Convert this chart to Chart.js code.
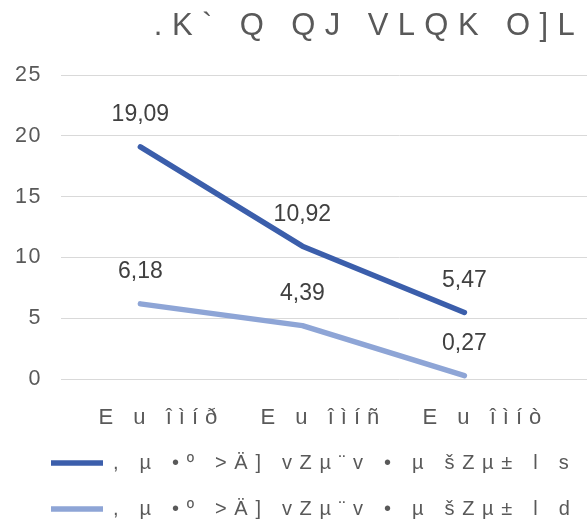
<!DOCTYPE html>
<html>
<head>
<meta charset="utf-8">
<script src="https://cdn.jsdelivr.net/npm/chart.js@4/dist/chart.umd.min.js"></script>
<style>
html, body { margin: 0; padding: 0; overflow: hidden; background: #fff; }
#chart { display: block; }
</style>
</head>
<body>
<canvas id="chart" width="768" height="524"></canvas>
<script>
const titleText = '.K` Q QJ VLQK O]L';
const categories = ['E u îìíð', 'E u îìíñ', 'E u îìíò'];
const seriesNames = [', µ •º >Ä] vZµ¨v • µ šZµ± l s', ', µ •º >Ä] vZµ¨v • µ šZµ± l d'];
const seriesTop = [19.09, 10.92, 5.47];
const seriesBottom = [6.18, 4.39, 0.27];
const yTicks = [0, 5, 10, 15, 20, 25];

const FONT = '"Liberation Sans", Arial, sans-serif';
const TEXT_GREY = '#595959';

// wrap a box method so its text is drawn/measured with extra letter spacing
// (dx optionally nudges the whole box sideways while drawing)
function spaced(target, method, px, dx = 0) {
    const orig = target[method];
    target[method] = function (...args) {
        const ctx = this.ctx;
        ctx.save();
        ctx.letterSpacing = px;
        if (dx) ctx.translate(dx, 0);
        try {
            return orig.apply(this, args);
        } finally {
            ctx.restore();
        }
    };
}

const letterSpacing = {
    id: 'letterSpacing',
    beforeLayout(chart) {
        if (chart.$spaced) return;
        chart.$spaced = true;
        spaced(chart.titleBlock, 'draw', '9.4px');
        spaced(chart.legend, 'update', '7.7px');
        spaced(chart.legend, 'draw', '7.7px', 25);
        spaced(chart.scales.x, 'update', '7px');
        spaced(chart.scales.x, 'drawLabels', '7px');
        spaced(chart.scales.y, 'update', '1.5px');
        spaced(chart.scales.y, 'drawLabels', '1.5px');
    }
};

const valueLabels = {
    id: 'valueLabels',
    afterDatasetsDraw(chart) {
        const ctx = chart.ctx;
        ctx.save();
        ctx.font = '23px ' + FONT;
        ctx.fillStyle = '#404040';
        ctx.textAlign = 'center';
        ctx.textBaseline = 'middle';
        chart.data.datasets.forEach((ds, i) => {
            chart.getDatasetMeta(i).data.forEach((pt, j) => {
                const text = ds.data[j].y.toFixed(2).replace('.', ',');
                ctx.fillText(text, pt.x, pt.y - 32);
            });
        });
        ctx.restore();
    }
};

const toPoints = values => values.map((v, i) => ({ x: i, y: v }));

new Chart(document.getElementById('chart'), {
    type: 'line',
    data: {
        datasets: [
            {
                label: seriesNames[0],
                data: toPoints(seriesTop),
                borderColor: '#3B5EAB',
                backgroundColor: '#3B5EAB'
            },
            {
                label: seriesNames[1],
                data: toPoints(seriesBottom),
                borderColor: '#8EA5D6',
                backgroundColor: '#8EA5D6'
            }
        ]
    },
    options: {
        responsive: false,
        animation: false,
        events: [],
        datasets: {
            line: {
                borderWidth: 5.5,
                borderCapStyle: 'round',
                borderJoinStyle: 'round',
                tension: 0,
                pointRadius: 0
            }
        },
        layout: {
            padding: { top: 0, right: 30, bottom: -5, left: 0 }
        },
        scales: {
            x: {
                type: 'linear',
                min: -0.49,
                max: 3.689,
                afterBuildTicks: scale => {
                    scale.ticks = categories.map((c, i) => ({ value: i }));
                },
                afterFit: scale => { scale.height = 48; },
                grid: { display: false },
                border: { display: false },
                ticks: {
                    callback: value => categories[value],
                    autoSkip: false,
                    maxRotation: 0,
                    padding: 18,
                    labelOffset: 21,
                    color: TEXT_GREY,
                    font: { family: FONT, size: 22 }
                }
            },
            y: {
                min: yTicks[0],
                max: yTicks[yTicks.length - 1],
                afterBuildTicks: scale => {
                    scale.ticks = yTicks.map(v => ({ value: v }));
                },
                afterFit: scale => { scale.width = 61; },
                grid: { color: '#D9D9D9', lineWidth: 1, drawTicks: false },
                border: { display: false },
                ticks: {
                    padding: 19,
                    color: TEXT_GREY,
                    font: { family: FONT, size: 21.5 }
                }
            }
        },
        plugins: {
            title: {
                display: true,
                text: titleText,
                color: TEXT_GREY,
                font: { family: FONT, size: 31, weight: 'normal' },
                padding: { top: 8, bottom: 29.8 }
            },
            legend: {
                position: 'bottom',
                align: 'start',
                labels: {
                    usePointStyle: true,
                    pointStyle: 'line',
                    pointStyleWidth: 52,
                    padding: 26,
                    color: TEXT_GREY,
                    font: { family: FONT, size: 20 }
                }
            },
            tooltip: { enabled: false }
        }
    },
    plugins: [letterSpacing, valueLabels]
});
</script>
</body>
</html>
